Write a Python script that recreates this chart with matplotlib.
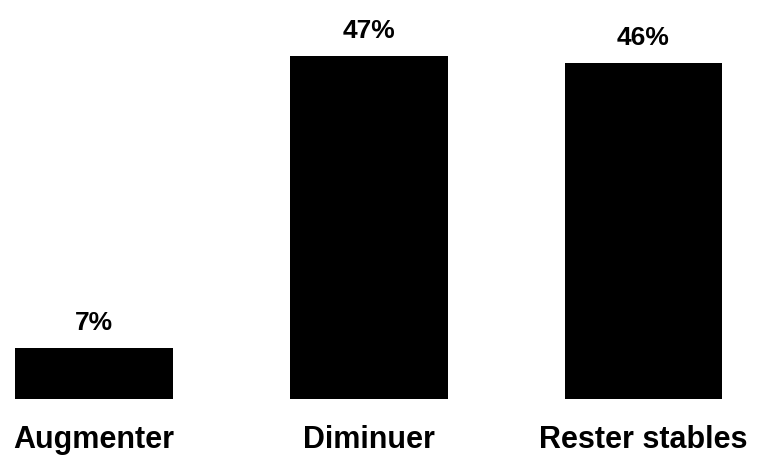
import matplotlib.pyplot as plt

# Data
categories = ["Augmenter", "Diminuer", "Rester stables"]
values = [7, 47, 46]

plt.rcParams["font.family"] = ["Liberation Sans", "DejaVu Sans"]

fig = plt.figure(figsize=(7.57, 4.6), dpi=100)
ax = fig.add_axes([15 / 757, 60 / 460, 707.5 / 757, 365 / 460])

x = range(len(categories))
bars = ax.bar(x, values, width=0.575, color="black")

# Percent labels above bars
for xi, v in zip(x, values):
    ax.annotate(f"{v}%", (xi, v), xytext=(0, 10), textcoords="offset points",
                ha="center", va="bottom", fontsize=19, fontweight="bold")

ax.set_xlim(-0.2875, 2.2875)
ax.set_ylim(0, 50)
ax.set_xticks(list(x))
ax.set_xticklabels(categories, fontsize=22, fontweight="bold")
ax.tick_params(axis="x", length=0, pad=18)
ax.set_yticks([])
for s in ax.spines.values():
    s.set_visible(False)

fig.savefig("out.png", dpi=100)
